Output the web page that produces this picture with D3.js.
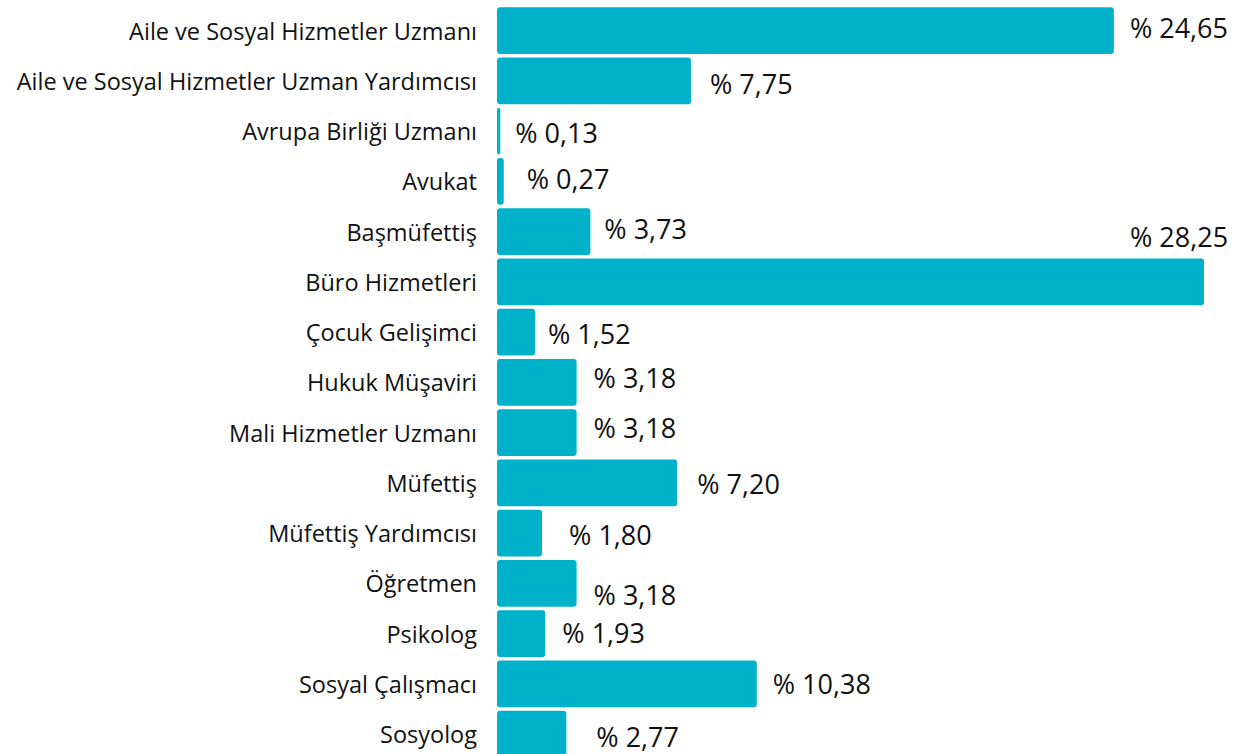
<!DOCTYPE html>
<html><head><meta charset="utf-8">
<script src="https://cdn.jsdelivr.net/npm/d3@7"></script>
<style>
html,body{margin:0;padding:0;background:#fff;}
svg{display:block;}
</style></head>
<body>
<svg id="chart" width="1242" height="754"></svg>
<script>
const categories = [
  "Aile ve Sosyal Hizmetler Uzmanı",
  "Aile ve Sosyal Hizmetler Uzman Yardımcısı",
  "Avrupa Birliği Uzmanı",
  "Avukat",
  "Başmüfettiş",
  "Büro Hizmetleri",
  "Çocuk Gelişimci",
  "Hukuk Müşaviri",
  "Mali Hizmetler Uzmanı",
  "Müfettiş",
  "Müfettiş Yardımcısı",
  "Öğretmen",
  "Psikolog",
  "Sosyal Çalışmacı",
  "Sosyolog"
];
const values = [24.65, 7.75, 0.13, 0.27, 3.73, 28.25, 1.52, 3.18, 3.18, 7.20, 1.80, 3.18, 1.93, 10.38, 2.77];
const valueLabels = ["% 24,65","% 7,75","% 0,13","% 0,27","% 3,73","% 28,25","% 1,52","% 3,18","% 3,18","% 7,20","% 1,80","% 3,18","% 1,93","% 10,38","% 2,77"];
// manual label nudges (as placed in the original)
const labelDx = [16,19,15,23,14,-74,13,17,17,20,27,17,17,16,30];
const labelDy = [-3,3,1,-3,-3,-45,1,-5,-5,1,1,11,-1,0,2];

const svg = d3.select("#chart");
const x0 = 497, xMaxPx = 1204;
const x = d3.scaleLinear().domain([0, d3.max(values)]).range([x0, xMaxPx]);
const y = d3.scaleBand().domain(categories).range([5.5, 5.5 + 15 * 50.25])
  .paddingInner(0.065).paddingOuter(0.0325);

const color = "#00B2C9";

svg.append("g").selectAll("rect").data(values).join("rect")
  .attr("x", x(0))
  .attr("y", (d, i) => y(categories[i]))
  .attr("width", d => Math.max(0, x(d) - x(0)))
  .attr("height", y.bandwidth())
  .attr("rx", 3).attr("ry", 3)
  .attr("fill", color);

svg.append("g").selectAll("text").data(categories).join("text")
  .attr("x", 477)
  .attr("y", d => y(d) + y.bandwidth() / 2)
  .attr("text-anchor", "end")
  .attr("dominant-baseline", "central")
  .attr("font-family", "'Open Sans', sans-serif")
  .attr("font-size", 23.5)
  .attr("fill", "#111")
  .text(d => d);

svg.append("g").selectAll("text").data(values).join("text")
  .attr("x", (d, i) => x(d) + labelDx[i])
  .attr("y", (d, i) => y(categories[i]) + y.bandwidth() / 2 + labelDy[i])
  .attr("text-anchor", "start")
  .attr("dominant-baseline", "central")
  .attr("font-family", "'Open Sans', sans-serif")
  .attr("font-size", 27)
  .attr("fill", "#111")
  .text((d, i) => valueLabels[i]);
</script>
</body></html>
